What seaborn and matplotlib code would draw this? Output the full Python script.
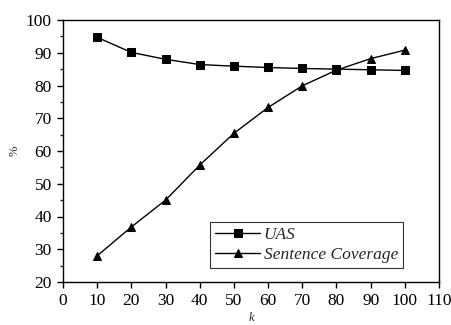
import numpy as np
import pandas as pd
import matplotlib
matplotlib.use("Agg")
import matplotlib.pyplot as plt
import seaborn as sns
from matplotlib.ticker import MultipleLocator

k = [10, 20, 30, 40, 50, 60, 70, 80, 90, 100]
uas = [94.7, 90.1, 88.0, 86.4, 85.9, 85.5, 85.2, 85.0, 84.8, 84.6]
coverage = [28.0, 36.8, 45.0, 55.7, 65.4, 73.3, 79.9, 84.7, 88.2, 90.8]

df = pd.DataFrame({
    "k": k * 2,
    "value": uas + coverage,
    "series": ["UAS"] * len(k) + ["Sentence Coverage"] * len(k),
})

sns.set_style("ticks")
plt.rcParams["font.family"] = ["Liberation Serif", "DejaVu Serif"]

fig = plt.figure(figsize=(4.51, 3.25), dpi=100)
ax = fig.add_axes([63 / 451, 43 / 325, 376 / 451, 262 / 325])

sns.lineplot(data=df, x="k", y="value", hue="series", style="series",
             markers={"UAS": "s", "Sentence Coverage": "^"}, dashes=False,
             palette={"UAS": "black", "Sentence Coverage": "black"},
             markersize=6, linewidth=1.0, markeredgecolor="black", ax=ax)

ax.set_xlim(0, 110)
ax.set_ylim(20, 100)
ax.xaxis.set_major_locator(MultipleLocator(10))
ax.yaxis.set_major_locator(MultipleLocator(10))
ax.yaxis.set_minor_locator(MultipleLocator(5))
ax.tick_params(axis="both", which="major", direction="out", length=4.5, width=1,
               labelsize=12.5, colors="black")
ax.tick_params(axis="y", which="minor", direction="out", length=2.5, width=1)
for s in ax.spines.values():
    s.set_linewidth(1.0)
    s.set_color("black")

ax.set_xlabel("k", fontsize=9, style="italic", labelpad=2)
ax.set_ylabel("%", fontsize=9, labelpad=4)

leg = ax.legend(loc="lower right", bbox_to_anchor=(0.905, 0.053), borderaxespad=0,
                fontsize=12.5, frameon=True, fancybox=False, edgecolor="black",
                handlelength=2.6, borderpad=0.3, labelspacing=0.2,
                handletextpad=0.2, title=None)
leg.get_frame().set_linewidth(0.8)
for t in leg.get_texts():
    t.set_fontstyle("italic")

fig.savefig("out.png", dpi=100)
